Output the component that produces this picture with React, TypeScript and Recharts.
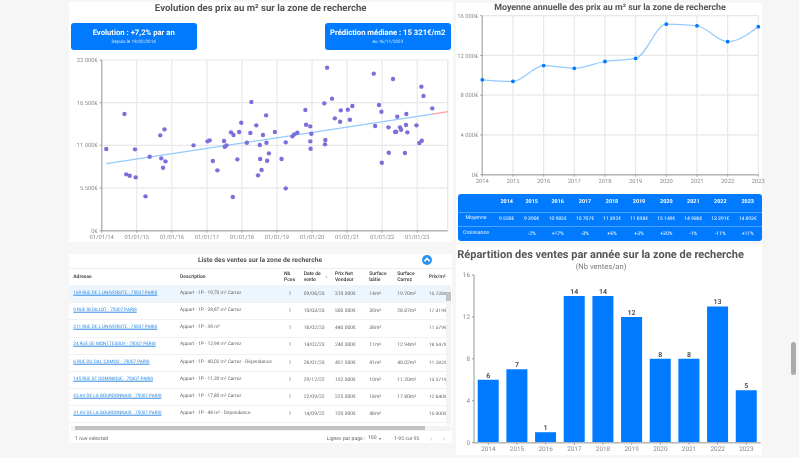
import {
  ScatterChart, Scatter, LineChart, Line, BarChart, Bar, LabelList, XAxis, YAxis,
  CartesianGrid, ReferenceLine,
} from 'recharts';
import type { CSSProperties } from 'react';

const FONT = 'Roboto, sans-serif';
const BLUE = '#007bff';

// nuage des ventes : date (année décimale) et prix au m²
const SALE_DATES = [
  2014.13, 2014.65, 2014.70, 2014.80, 2014.95, 2014.97, 2015.25, 2015.37, 2015.67, 2015.70, 2015.75, 2015.79, 2015.82,
  2016.62, 2017.02, 2017.08, 2017.17, 2017.30, 2017.49, 2017.51, 2017.56, 2017.69, 2017.76, 2017.74, 2017.87, 2017.92,
  2017.98, 2018.14, 2018.24, 2018.27, 2018.41, 2018.46, 2018.51, 2018.52, 2018.56, 2018.60, 2018.69, 2018.70, 2018.72,
  2018.77, 2018.94, 2019.13, 2019.25, 2019.25, 2019.44, 2019.49, 2019.58, 2019.81, 2019.83, 2019.95, 2019.96, 2019.95,
  2019.98, 2020.35, 2020.37, 2020.38, 2020.43, 2020.57, 2020.65, 2020.80, 2020.82, 2021.02, 2021.08, 2021.15, 2021.76,
  2021.80, 2021.91, 2021.98, 2021.99, 2022.18, 2022.19, 2022.31, 2022.37, 2022.40, 2022.43, 2022.51, 2022.54, 2022.65,
  2022.68, 2022.69, 2022.72, 2022.98, 2023.06, 2023.13, 2023.12, 2023.18, 2023.43,
];
const SALE_PRICES = [
  10530, 15040, 7262, 7090, 10485, 6875, 4426, 9539, 12290, 9324, 8121, 13063, 8938,
  11000, 11516, 11645, 8981, 7778, 11559, 10828, 11000, 12676, 12332, 4340, 9196, 12719,
  13922, 11344, 12590, 16586, 13579, 7133, 11043, 9239, 7821, 12332, 14868, 11344, 9024,
  9969, 12719, 9239, 11387, 5457, 12161, 12418, 12633, 15555, 13664, 13450, 10571, 11516,
  12504, 16415, 11129, 11688, 21012, 17016, 14481, 14051, 15512, 15598, 14309, 16071, 20239,
  13493, 16200, 15340, 8766, 13321, 10055, 19551, 12719, 12762, 14696, 13321, 13020, 10012,
  13621, 15040, 12676, 13579, 11301, 11602, 18563, 17360, 15770,
];
const TREND_DATES = [2014.13, 2023.43];
const TREND_PRICES = [8640, 15020];
const FORECAST_DATES = [2023.43, 2023.87];
const FORECAST_PRICES = [15020, 15340];
const SCATTER_X_TICKS = [2014, 2015, 2016, 2017, 2018, 2019, 2020, 2021, 2022, 2023];
const SCATTER_X_END = 2023.87;
const SCATTER_Y_TICKS = [0, 5500, 11000, 16500, 22000];

const YEARS = ['2014', '2015', '2016', '2017', '2018', '2019', '2020', '2021', '2022', '2023'];
const AVERAGE = [9550, 9390, 10985, 10707, 11392, 11698, 15149, 14986, 13391, 14893];
const AVERAGE_LABELS = ['9 550€', '9 390€', '10 985€', '10 707€', '11 392€', '11 698€', '15 149€', '14 986€', '13 391€', '14 893€'];
const GROWTH_LABELS = ['', '-2%', '+17%', '-3%', '+6%', '+3%', '+30%', '-1%', '-11%', '+11%'];
const AVERAGE_Y_TICKS = [0, 4000, 8000, 12000, 16000];
const SALES_COUNT = [6, 7, 1, 14, 14, 12, 8, 8, 13, 5];
const SALES_Y_TICKS = [0, 4, 8, 12, 16];

const ADDRESSES = [
  '189 RUE DE L UNIVERSITE - 75007 PARIS', '9 RUE SEDILLOT - 75007 PARIS', '211 RUE DE L UNIVERSITE - 75007 PARIS',
  '24 RUE DE MONTTESSUY - 75007 PARIS', '6 RUE DU GAL CAMOU - 75007 PARIS', '145 RUE ST DOMINIQUE - 75007 PARIS',
  '43 AV DE LA BOURDONNAIS - 75007 PARIS', '31 AV DE LA BOURDONNAIS - 75007 PARIS',
];
const DESCRIPTIONS = [
  'Appart - 1P - 19,70 m² Carrez', 'Appart - 1P - 28,87 m² Carrez', 'Appart - 1P - 38 m²', 'Appart - 1P - 12,94 m² Carrez',
  'Appart - 1P - 40,02 m² Carrez - Dépendance', 'Appart - 1P - 11,20 m² Carrez', 'Appart - 1P - 17,80 m² Carrez', 'Appart - 1P - 48 m² - Dépendance',
];
const SALE_DAYS = ['09/06/23', '10/03/23', '16/02/23', '14/02/23', '26/01/23', '29/12/22', '22/09/22', '14/09/22'];
const NET_PRICES = ['310 000€', '500 000€', '440 000€', '240 000€', '451 500€', '152 000€', '225 000€', '720 000€'];
const BUILT_AREAS = ['14m²', '30m²', '38m²', '11m²', '41m²', '10m²', '18m²', '48m²'];
const CARREZ_AREAS = ['19.70m²', '28.87m²', '', '12.94m²', '40.02m²', '11.20m²', '17.80m²', ''];
const PRICES_M2 = ['15 736€', '17 319€', '11 579€', '18 547€', '11 282€', '13 571€', '12 640€', '15 000€'];

// espace insécable, sinon Recharts coupe le tick sur deux lignes
const euro = (v: number) => `${String(v).replace(/\B(?=(\d{3})+$)/g, '\u00a0')}€`;
const yearTick = (v: number) => `01/01/${String(v).slice(2)}`;
const zip = (xs: number[], ys: number[]) => xs.map((x, i) => ({ x, y: ys[i] }));
const noDot = () => null;

const at = (left: number, top: number, width: number, height: number): CSSProperties => ({
  position: 'absolute', left, top, width, height,
});
const tickStyle = { fontSize: 5.8, fill: '#8a8a8a', fontFamily: FONT };
const AXIS = { stroke: '#b5b5b5', strokeWidth: 1.4 };
const GRID = '#e8e8e8';

function Text({ x, y, children, color = '#555', size = 5, weight = 400, center = false, underline = false, width }: {
  x: number; y: number; children: React.ReactNode; color?: string; size?: number; weight?: number;
  center?: boolean; underline?: boolean; width?: number;
}) {
  return (
    <div style={{
      position: 'absolute', left: x, top: y, transform: center ? 'translate(-50%,-50%)' : 'translateY(-50%)',
      color, fontSize: size, fontWeight: weight, whiteSpace: 'nowrap', lineHeight: 1,
      textDecoration: underline ? 'underline' : 'none', width, overflow: width ? 'hidden' : undefined,
    }}>{children}</div>
  );
}

function KpiBox({ left, title, sub }: { left: number; title: string; sub: string }) {
  return (
    <div style={{ ...at(left, 23, 126, 27), background: BLUE, borderRadius: 3 }}>
      <Text x={63} y={10} center color="#fff" size={7.7} weight={700}>{title}</Text>
      <Text x={63} y={19.5} center color="#d5e8ff" size={4.6}>{sub}</Text>
    </div>
  );
}

function PriceScatter() {
  return (
    <ScatterChart width={384} height={192} margin={{ top: 10, right: 5.3, bottom: 0, left: 0 }} style={at(69, 50, 384, 192)}>
      <CartesianGrid stroke={GRID} strokeWidth={1.2} />
      <XAxis type="number" dataKey="x" domain={[2014, SCATTER_X_END]} ticks={SCATTER_X_TICKS} tickFormatter={yearTick}
        height={11.3} tick={tickStyle} axisLine={AXIS} tickLine={{ stroke: '#999' }} tickSize={2} interval={0} />
      <YAxis type="number" dataKey="y" domain={[0, 22000]} ticks={SCATTER_Y_TICKS} tickFormatter={euro}
        width={32.7} tick={tickStyle} axisLine={AXIS} tickLine={{ stroke: '#999' }} tickSize={2} interval={0} />
      <ReferenceLine x={SCATTER_X_END} stroke={GRID} strokeWidth={1.2} />
      <Scatter data={zip(TREND_DATES, TREND_PRICES)} line={{ stroke: '#93c9ff', strokeWidth: 1.2 }} shape={noDot} isAnimationActive={false} />
      <Scatter data={zip(FORECAST_DATES, FORECAST_PRICES)} line={{ stroke: '#ff9d9d', strokeWidth: 1.2 }} shape={noDot} isAnimationActive={false} />
      <Scatter data={zip(SALE_DATES, SALE_PRICES)} fill="#7b6fd9" shape={(p: any) => <circle cx={p.cx} cy={p.cy} r={2.2} fill="#7b6fd9" />} isAnimationActive={false} />
    </ScatterChart>
  );
}

function AverageLine() {
  const rows = YEARS.map((year, i) => ({ year, value: AVERAGE[i] }));
  return (
    <LineChart data={rows} width={322} height={183} margin={{ top: 12.7, right: 19.7, bottom: 0, left: 0 }} style={at(456, 3, 322, 183)}>
      <CartesianGrid stroke={GRID} strokeWidth={1.2} />
      <XAxis dataKey="year" padding={{ left: 0, right: 0 }} height={11.3} tick={tickStyle} axisLine={AXIS}
        tickLine={{ stroke: '#999' }} tickSize={2} interval={0} />
      <YAxis domain={[0, 16000]} ticks={AVERAGE_Y_TICKS} tickFormatter={euro} width={26.3} tick={tickStyle}
        axisLine={AXIS} tickLine={{ stroke: '#999' }} tickSize={2} interval={0} />
      <Line type="monotone" dataKey="value" stroke="#93c9ff" strokeWidth={1.2} dot={{ r: 1.3, fill: BLUE, stroke: BLUE }} isAnimationActive={false} />
    </LineChart>
  );
}

function SalesBars() {
  const rows = YEARS.map((year, i) => ({ year, count: SALES_COUNT[i] }));
  return (
    <BarChart data={rows} width={306} height={187} barCategoryGap="13%" margin={{ top: 7, right: 1.3, bottom: 0, left: 0 }} style={at(456, 268, 306, 187)}>
      <XAxis dataKey="year" height={12.3} tick={{ ...tickStyle, fontSize: 6.4 }} axisLine={AXIS} tickLine={{ stroke: '#999' }} tickSize={2} interval={0} />
      <YAxis domain={[0, 16]} ticks={SALES_Y_TICKS} width={18} tick={{ ...tickStyle, fontSize: 6.4 }} axisLine={AXIS}
        tickLine={{ stroke: '#999' }} tickSize={2} interval={0} />
      <Bar dataKey="count" fill={BLUE} isAnimationActive={false}>
        <LabelList dataKey="count" position="top" offset={2} style={{ fontSize: 7, fontWeight: 700, fill: '#555', fontFamily: FONT }} />
      </Bar>
    </BarChart>
  );
}

const TABLE_COLS = [506.7, 531.7, 557.7, 585, 612, 639, 666.3, 693.3, 720.3, 747.7];

function YearTable() {
  return (
    <div style={{ ...at(458, 194, 303.7, 46.7), background: BLUE, borderRadius: 3 }}>
      <div style={{ ...at(0, 17.5, 303.7, 0.6), background: '#4ca3ff' }} />
      <div style={{ ...at(0, 32.2, 303.7, 0.6), background: '#4ca3ff' }} />
      <Text x={18} y={25} center color="#e6f1ff" size={5.2}>Moyenne</Text>
      <Text x={18} y={39.5} center color="#e6f1ff" size={5.2}>Croissance</Text>
      {TABLE_COLS.map((x, i) => (
        <div key={x}>
          <Text x={x - 458} y={8.7} center color="#fff" size={5.4} weight={700}>{YEARS[i]}</Text>
          <Text x={x - 458} y={25} center color="#fff" size={5}>{AVERAGE_LABELS[i]}</Text>
          <Text x={x - 458} y={39.5} center color="#fff" size={5}>{GROWTH_LABELS[i]}</Text>
        </div>
      ))}
    </div>
  );
}

const ROW_YS = [294, 311, 328.3, 345.3, 362.7, 379.7, 396.7, 414];

function SalesList() {
  return (
    <>
      <div style={{ ...at(69, 254, 383, 189), background: '#fff' }} />
      <Text x={260} y={259.7} center size={6.7} weight={700}>Liste des ventes sur la zone de recherche</Text>
      <svg style={at(421.5, 254.5, 10, 10)} width={10} height={10}>
        <circle cx={5} cy={5} r={5} fill="#2a93f0" />
        <path d="M2.4 6.2 L5 3.4 L7.6 6.2" fill="none" stroke="#fff" strokeWidth={1.6} />
      </svg>
      <div style={{ ...at(69, 267.5, 383, 0.6), background: '#eee' }} />
      <Text x={73.3} y={276.5} color="#333" weight={500}>Adresse</Text>
      <Text x={180} y={276.5} color="#333" weight={500}>Description</Text>
      <Text x={284} y={273.5} color="#333" weight={500}>Nb</Text>
      <Text x={284} y={280} color="#333" weight={500}>Pces</Text>
      <Text x={303.7} y={273.5} color="#333" weight={500}>Date de</Text>
      <Text x={303.7} y={280} color="#333" weight={500}>vente</Text>
      <Text x={326.5} y={277} center color="#666" size={5}>↓</Text>
      <Text x={335} y={273.5} color="#333" weight={500}>Prix Net</Text>
      <Text x={335} y={280} color="#333" weight={500}>Vendeur</Text>
      <Text x={369.3} y={273.5} color="#333" weight={500}>Surface</Text>
      <Text x={369.3} y={280} color="#333" weight={500}>bâtie</Text>
      <Text x={397.3} y={273.5} color="#333" weight={500}>Surface</Text>
      <Text x={397.3} y={280} color="#333" weight={500}>Carrez</Text>
      <Text x={428.7} y={276.5} color="#333" weight={500}>Prix/m²</Text>
      <div style={{ ...at(69, 285.3, 377, 17.3), background: '#edf6fd' }} />
      {ROW_YS.map((y, i) => (
        <div key={y}>
          <div style={{ ...at(69, y + 8.3, 377, 0.6), background: '#f1f1f1' }} />
          <Text x={73.3} y={y} color="#2f8ae6" size={4.6} underline>{ADDRESSES[i]}</Text>
          <Text x={180} y={y} color="#666" size={4.8}>{DESCRIPTIONS[i]}</Text>
          <Text x={290} y={y} center color="#666">1</Text>
          <Text x={303.7} y={y} color="#666">{SALE_DAYS[i]}</Text>
          <Text x={335} y={y} color="#666">{NET_PRICES[i]}</Text>
          <Text x={369.3} y={y} color="#666">{BUILT_AREAS[i]}</Text>
          <Text x={397.3} y={y} color="#666">{CARREZ_AREAS[i]}</Text>
          <Text x={428.7} y={y} color="#666" width={17.5}>{PRICES_M2[i]}</Text>
        </div>
      ))}
      {/* ascenseurs */}
      <div style={{ ...at(445.5, 285.3, 5.5, 140), background: '#f3f3f3' }} />
      <div style={{ ...at(445.8, 291.5, 5, 9.5), background: '#c2c2c2' }} />
      <div style={{ ...at(71, 425.6, 380, 5), background: '#f3f3f3' }} />
      <div style={{ ...at(75, 425.8, 350, 4.6), background: '#c2c2c2' }} />
      <Text x={75} y={439.5} color="#666" size={5.1}>1 row selected</Text>
      <Text x={326.7} y={439.5} color="#666" size={5.1}>Lignes par page :</Text>
      <Text x={368} y={439.3} color="#666" size={5.1}>100</Text>
      <Text x={380} y={439.3} center color="#666" size={4}>▾</Text>
      <Text x={394} y={439.5} color="#666" size={5.1}>1-95 sur 95</Text>
      <Text x={431} y={439.3} center color="#bbb" size={7}>‹</Text>
      <Text x={444} y={439.3} center color="#bbb" size={7}>›</Text>
    </>
  );
}

export default function App() {
  return (
    <div style={{ ...at(0, 0, 799, 458), background: '#f6f6f6', overflow: 'hidden', fontFamily: FONT, filter: 'blur(0.4px)', textRendering: 'geometricPrecision' }}>
      <div style={{ ...at(69, 2, 384, 240), background: '#fff' }} />
      <div style={{ ...at(456, 3, 306, 239), background: '#fff' }} />
      <div style={{ ...at(456, 244, 306, 211), background: '#fff' }} />

      <Text x={260.7} y={9} center size={9.6} weight={700}>Evolution des prix au m² sur la zone de recherche</Text>
      <KpiBox left={70.7} title="Evolution : +7,2% par an" sub="Depuis le 19/02/2014" />
      <KpiBox left={324.7} title="Prédiction médiane : 15 321€/m2" sub="Au 16/11/2023" />
      <PriceScatter />

      <AverageLine />
      <Text x={610} y={8.3} center size={8.9} weight={700}>Moyenne annuelle des prix au m² sur la zone de recherche</Text>
      <YearTable />

      <SalesList />

      <Text x={457.3} y={253.5} size={11} weight={700}>Répartition des ventes par année sur la zone de recherche</Text>
      <Text x={601} y={267.3} center color="#777" size={7.6}>(Nb ventes/an)</Text>
      <SalesBars />

      <div style={{ ...at(790.7, 342, 5.3, 33), background: '#ababab', borderRadius: 3 }} />
    </div>
  );
}
